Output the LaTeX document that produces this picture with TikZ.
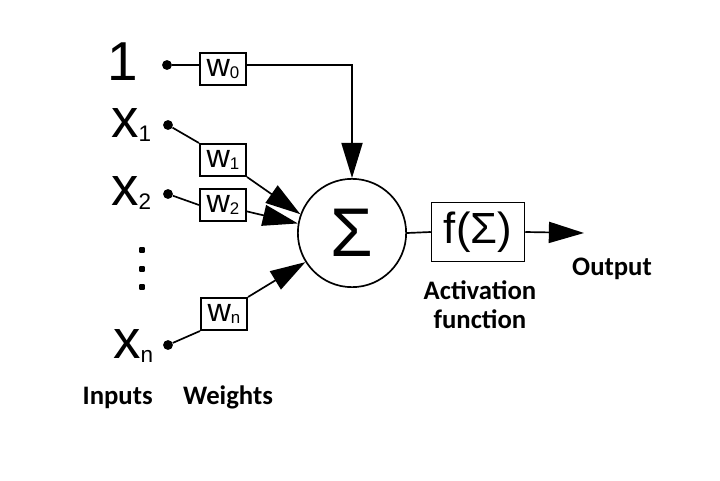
\documentclass[tikz,border=0pt]{standalone}
\usepackage{fontspec}
\setmainfont{Liberation Sans}
\newfontfamily\capfont{Carlito}
\usetikzlibrary{arrows.meta,positioning,calc}
\newcommand{\insub}[1]{\raisebox{-3pt}{\fontsize{16}{16}\selectfont #1}}
\newcommand{\wsub}[1]{\raisebox{-1.5pt}{\fontsize{12}{12}\selectfont #1}}
\tikzset{
  indot/.style={circle,fill=black,inner sep=0pt,minimum size=7pt},
  vdot/.style={rectangle,rounded corners=0.5pt,fill=black,inner sep=0pt,minimum size=4pt},
  inlabel/.style={anchor=base west,inner sep=0pt,font=\fontsize{39}{40}\selectfont},
  wbox/.style={draw,line width=1.2pt,inner sep=0pt,minimum width=33pt,minimum height=23pt,font=\fontsize{23}{24}\selectfont},
  wire/.style={line width=1.2pt},
  sig/.style={wire,-{Triangle[length=25pt,width=15pt]}},
  caption/.style={inner sep=0pt,font=\capfont\bfseries\fontsize{19}{21}\selectfont},
}

\begin{document}
\begin{tikzpicture}[x=0.025cm,y=-0.025cm]
\useasboundingbox (0,0) rectangle (720,480);
% inputs: the bias and x_1, x_2, ..., x_n
\node[inlabel] (one) at (107,80) {1};
\node[inlabel] (x1) at (111,137) {x\insub{1}};
\node[inlabel] (x2) at (111,205) {x\insub{2}};
\node[inlabel] (xn) at (113,358) {x\insub{n}};
\node[indot] (in0) at (167,65) {};
\node[indot] (in1) at (168,125) {};
\node[indot] (in2) at (168,194) {};
\node[indot] (inn) at (168,345) {};
\foreach \y [count=\k] in {250,269,287}
  {\node[vdot] (vd\k) at (142,\y) {};}
% weights
\node[wbox] (w0) at (223,69) {w\wsub{0}};
\node[wbox] (w1) at (223,160) {w\wsub{1}};
\node[wbox] (w2) at (223,205) {w\wsub{2}};
\node[wbox] (wn) at (224,314) {w\wsub{n}};
% summation and activation
\node[draw,circle,line width=1.2pt,inner sep=0pt,minimum size=77pt,font=\fontsize{49}{50}\selectfont] (sum) at (352,233) {Σ};
\node[draw,line width=1.2pt,inner sep=0pt,minimum width=66pt,minimum height=42pt,font=\fontsize{31}{32}\selectfont] (act) at (478,232) {f(Σ)};
\coordinate (out) at (584,233);
% connectors
\draw[wire] (in0) -- (in0 -| w0.west);
\draw[wire] (in1) -- (w1.north west);
\draw[wire] (in2) -- (w2.west);
\draw[wire] (inn) -- (wn.south west);
\draw[sig] (w0.east |- in0) -| (sum.north);
\draw[sig] (w1.south east) -- (sum.160);
\draw[sig] (w2.-15) -- (sum.170);
\draw[sig] (wn.north east) -- (sum.212);
\draw[wire] (sum.east) -- (act.west);
\draw[sig] (act.east) -- (out);
% captions
\node[caption,anchor=base] (outlbl) at (612,275) {Output};
\node[caption,anchor=north,align=center] (actlbl) at (480,280) {Activation\\function};
\node[caption,anchor=base east] (inlbl) at (153,404) {Inputs};
\node[caption,anchor=base] (wlbl) at (228,404) {Weights};
\end{tikzpicture}
\end{document}
